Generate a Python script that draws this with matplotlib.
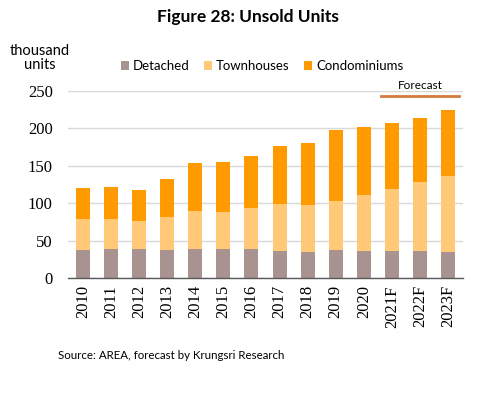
import matplotlib
matplotlib.use("Agg")
import matplotlib.pyplot as plt
import numpy as np

categories = ["2010", "2011", "2012", "2013", "2014", "2015", "2016", "2017",
              "2018", "2019", "2020", "2021F", "2022F", "2023F"]
detached = [38, 39, 39, 38, 39, 39, 39, 36.5, 35, 38, 36.5, 36.5, 36.5, 35]
townhouses = [41, 40, 38, 44, 51, 49.5, 55, 63, 63, 65, 75, 83, 92, 102]
condominiums = [41, 43, 41, 51, 64, 67, 69.5, 77, 83, 95, 91, 88, 85, 88]
y_ticks = [0, 50, 100, 150, 200, 250]

c_det = "#A89391"
c_town = "#FFC978"
c_condo = "#FF9A00"

fig = plt.figure(figsize=(4.81, 3.99), dpi=100)
ax = fig.add_axes([0.1414, 0.3025, 0.8212, 0.4694])

x = np.arange(len(categories))
det = np.array(detached)
town = np.array(townhouses)
condo = np.array(condominiums)
w = 0.5
ax.bar(x, det, w, color=c_det, label="Detached", zorder=3)
ax.bar(x, town, w, bottom=det, color=c_town, label="Townhouses", zorder=3)
ax.bar(x, condo, w, bottom=det + town, color=c_condo, label="Condominiums", zorder=3)

ax.set_xlim(-0.534, len(categories) - 1 + 0.534)
ax.set_ylim(0, 250)
ax.set_yticks(y_ticks)
ax.set_xticks(x)
ax.set_xticklabels(categories, rotation=90, fontsize=12, family="Liberation Serif", color="#000000")
ax.set_yticklabels([str(v) for v in y_ticks], fontsize=12, family="Liberation Serif")
ax.yaxis.grid(True, color="#D9D9D9", linewidth=1, zorder=0)
ax.tick_params(axis="both", length=0)
ax.tick_params(axis="y", pad=11)
ax.tick_params(axis="x", pad=5)
for s in ["top", "right", "left"]:
    ax.spines[s].set_visible(False)
ax.spines["bottom"].set_color("#595959")
ax.spines["bottom"].set_linewidth(1)
ax.spines["bottom"].set_zorder(4)

# forecast marker
ax.plot([10.61, 13.39], [244, 244], color="#D47A3A", linewidth=2, clip_on=False, zorder=5)
ax.text(12.0, 250.5, "Forecast", ha="center", va="bottom", fontsize=8.5, family="Lato")

fig.text(0.5155, 0.957, "Figure 28: Unsold Units", ha="center", va="center",
         fontsize=12.5, fontweight="bold", family="Lato")
fig.text(0.083, 0.872, "thousand", ha="center", va="center", fontsize=10.5, family="Lato")
fig.text(0.083, 0.838, "units", ha="center", va="center", fontsize=10.5, family="Lato")
leg = fig.legend(loc="center", bbox_to_anchor=(0.545, 0.834), ncol=3, frameon=False,
                 prop={"family": "Lato", "size": 9.5}, handlelength=0.6, handleheight=0.6,
                 handletextpad=0.3, columnspacing=1.1)
fig.text(0.121, 0.11, "Source: AREA, forecast by Krungsri Research", ha="left", va="center",
         fontsize=8.3, family="Lato")

fig.savefig("out.png", dpi=100)
